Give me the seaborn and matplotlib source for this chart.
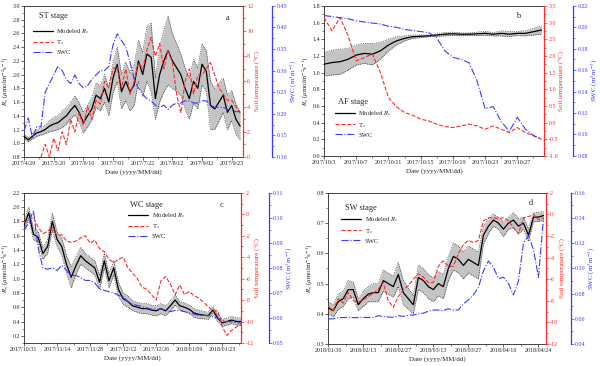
import numpy as np
import pandas as pd
import matplotlib
matplotlib.use('Agg')
import matplotlib.pyplot as plt
import seaborn as sns
from matplotlib.ticker import AutoMinorLocator, FormatStrFormatter
from matplotlib.lines import Line2D

sns.set_style('ticks')
plt.rcParams['font.family'] = ['Liberation Serif', 'DejaVu Serif']
plt.rcParams['mathtext.fontset'] = 'stix'

# ---------------- data ----------------
# ST stage, every 3 days from 2017/4/29
st_start = '2017-04-29'
st_rs = [1.10, 1.05, 1.10, 1.15, 1.17, 1.20, 1.25, 1.28, 1.30, 1.35, 1.40, 1.48, 1.55,
         1.45, 1.30, 1.40, 1.50, 1.70, 1.65, 1.80, 1.60, 1.95, 2.15, 1.75, 1.90, 1.75,
         1.85, 2.20, 2.00, 2.30, 2.25, 1.65, 2.00, 2.20, 2.35, 2.20, 2.10, 2.00, 1.80,
         1.65, 1.90, 1.80, 2.15, 2.05, 1.55, 1.50, 1.60, 1.70, 1.45, 1.55, 1.35, 1.25]
st_err = [0.03, 0.03, 0.04, 0.05, 0.05, 0.06, 0.08, 0.10, 0.10, 0.12, 0.12, 0.12, 0.14,
          0.14, 0.15, 0.16, 0.16, 0.18, 0.18, 0.20, 0.20, 0.22, 0.25, 0.25, 0.28, 0.28,
          0.30, 0.30, 0.32, 0.40, 0.50, 0.30, 0.40, 0.45, 0.50, 0.40, 0.35, 0.30, 0.30,
          0.30, 0.32, 0.30, 0.30, 0.30, 0.35, 0.30, 0.28, 0.25, 0.25, 0.22, 0.22, 0.20]
st_ts = [np.nan, np.nan, np.nan, np.nan, 0.0, 1.0, 0.0, 1.5, 0.5, 2.0, 1.0, 3.0, 2.0,
         3.5, 2.5, 4.0, 3.0, 4.5, 4.2, 6.0, 5.5, 7.0, 7.2, 5.5, 7.0, 5.0,
         6.0, 7.5, 7.0, 8.5, 9.5, 8.0, 9.0, 7.0, 8.5, 7.5, 5.0, 3.5, 6.0,
         7.0, 5.0, 6.5, 6.5, 7.0, 7.5, 6.5, 5.5, 5.0, 4.5, 4.5, 4.0, 3.5]
st_swc = [0.160, 0.190, 0.145, 0.170, 0.170, 0.250, 0.270, 0.290, 0.310, 0.300, 0.280, 0.270, 0.290,
          0.270, 0.260, 0.265, 0.280, 0.290, 0.300, 0.300, 0.310, 0.360, 0.385, 0.370, 0.355, 0.320,
          0.280, 0.260, 0.245, 0.235, 0.230, 0.220, 0.215, 0.220, 0.210, 0.220, 0.225, 0.225, 0.230,
          0.230, 0.225, 0.225, 0.230, 0.230, 0.220, 0.215, 0.215, 0.215, 0.210, 0.210, 0.205, 0.205]
st_ticks = ['2017/4/29', '2017/5/20', '2017/6/10', '2017/7/01', '2017/7/22', '2017/8/12', '2017/9/02', '2017/9/23']

# AF stage, daily from 2017/10/3
af_start = '2017-10-03'
af_rs = [1.10, 1.12, 1.13, 1.16, 1.21, 1.23, 1.22, 1.26, 1.33, 1.38, 1.41, 1.43, 1.435, 1.44,
         1.45, 1.46, 1.465, 1.46, 1.46, 1.465, 1.47, 1.46, 1.47, 1.46, 1.47, 1.47, 1.49, 1.51]
af_err = [0.14, 0.15, 0.15, 0.13, 0.12, 0.12, 0.13, 0.10, 0.07, 0.05, 0.03, 0.02, 0.015, 0.01,
          0.015, 0.02, 0.02, 0.015, 0.015, 0.02, 0.025, 0.02, 0.03, 0.03, 0.025, 0.03, 0.04, 0.05]
af_ts = [3.15, 2.75, 3.15, 2.60, 1.85, 1.95, 2.05, 1.50, 0.75, 0.47, 0.30, 0.22, 0.10, 0.05,
         -0.05, -0.12, -0.15, -0.10, -0.05, -0.10, -0.20, -0.10, -0.20, -0.30, -0.15, -0.30, -0.40, -0.50]
af_swc = [0.211, 0.210, 0.209, 0.208, 0.206, 0.205, 0.204, 0.203, 0.201, 0.200, 0.198, 0.197, 0.196, 0.195,
          0.190, 0.178, 0.172, 0.170, 0.167, 0.150, 0.124, 0.126, 0.112, 0.103, 0.116, 0.105, 0.099, 0.096]
af_ticks = ['2017/10/3', '2017/10/7', '2017/10/11', '2017/10/15', '2017/10/19', '2017/10/23', '2017/10/27']

# WC stage, every 2 days from 2017/10/31
wc_start = '2017-10-31'
wc_rs = [1.75, 1.92, 1.62, 1.58, 1.35, 1.45, 1.80, 1.55, 1.45, 1.20, 1.02, 1.18, 1.32, 1.25,
         1.20, 1.15, 0.95, 1.25, 0.97, 1.15, 0.85, 0.72, 0.68, 0.62, 0.60, 0.58, 0.58, 0.56,
         0.55, 0.58, 0.55, 0.62, 0.70, 0.62, 0.60, 0.57, 0.52, 0.50, 0.49, 0.48, 0.56, 0.45,
         0.38, 0.40, 0.42, 0.40, 0.40]
wc_err = [0.06, 0.08, 0.08, 0.08, 0.08, 0.10, 0.12, 0.10, 0.12, 0.12, 0.15, 0.12, 0.12, 0.10,
          0.10, 0.10, 0.10, 0.10, 0.10, 0.10, 0.10, 0.08, 0.08, 0.07, 0.07, 0.07, 0.07, 0.07,
          0.07, 0.07, 0.07, 0.07, 0.07, 0.06, 0.06, 0.06, 0.06, 0.06, 0.05, 0.05, 0.05, 0.05,
          0.05, 0.05, 0.05, 0.05, 0.05]
wc_ts = [-0.8, -0.5, -0.3, -1.2, -1.8, -1.6, -1.2, -2.0, -1.9, -2.5, -2.6, -2.5, -2.2, -2.0,
         -2.7, -2.4, -3.2, -3.5, -4.2, -4.5, -4.2, -4.0, -5.0, -5.5, -6.0, -6.8, -7.0, -7.5,
         -8.0, -6.2, -5.8, -6.5, -7.5, -6.6, -7.5, -7.2, -7.6, -7.8, -8.2, -8.6, -9.0, -9.0,
         -10.5, -11.3, -10.8, -10.5, -10.3]
wc_swc = [0.0950, 0.0980, 0.1030, 0.0880, 0.0800, 0.0795, 0.0800, 0.0790, 0.0810, 0.0790, 0.0770, 0.0770,
          0.0760, 0.0750, 0.0750, 0.0740, 0.0715, 0.0710, 0.0705, 0.0700, 0.0690, 0.0685, 0.0665, 0.0655,
          0.0650, 0.0645, 0.0640, 0.0635, 0.0635, 0.0635, 0.0630, 0.0625, 0.0630, 0.0630, 0.0625, 0.0620,
          0.0615, 0.0610, 0.0610, 0.0610, 0.0605, 0.0600, 0.0590, 0.0585, 0.0585, 0.0580, 0.0580]
wc_ticks = ['2017/10/31', '2017/11/14', '2017/11/28', '2017/12/12', '2017/12/26', '2018/01/09', '2018/01/23']

# SW stage, every 2 days from 2018/01/30
sw_start = '2018-01-30'
sw_rs = [0.42, 0.41, 0.44, 0.45, 0.48, 0.48, 0.43, 0.45, 0.465, 0.47, 0.47, 0.51, 0.50, 0.49,
         0.53, 0.47, 0.45, 0.43, 0.52, 0.51, 0.49, 0.48, 0.50, 0.49, 0.55, 0.59, 0.58, 0.56,
         0.58, 0.57, 0.56, 0.66, 0.69, 0.71, 0.70, 0.68, 0.70, 0.71, 0.69, 0.70, 0.66, 0.72,
         0.72, 0.725]
sw_err = [0.02, 0.02, 0.025, 0.025, 0.03, 0.025, 0.02, 0.025, 0.025, 0.03, 0.03, 0.035, 0.035, 0.035,
          0.04, 0.04, 0.035, 0.03, 0.04, 0.04, 0.04, 0.04, 0.04, 0.04, 0.04, 0.045, 0.045, 0.045,
          0.045, 0.045, 0.045, 0.03, 0.025, 0.02, 0.02, 0.025, 0.02, 0.025, 0.025, 0.02, 0.02, 0.015,
          0.015, 0.015]
sw_ts = [-8.5, -8.9, -7.8, -8.2, -7.2, -8.0, -8.1, -7.9, -7.6, -7.3, -6.9, -6.3, -8.0, -8.6,
         -7.6, -7.0, -6.6, -6.0, -5.5, -5.8, -6.3, -6.3, -4.8, -4.3, -4.8, -4.8, -3.6, -2.8,
         -2.4, -2.6, -2.4, -0.6, -0.3, -0.3, -0.4, -0.3, -0.6, -1.2, -1.8, -0.3, -0.2, 0.0,
         -0.5, -0.3]
sw_swc = [0.060, 0.060, 0.061, 0.061, 0.0612, 0.061, 0.061, 0.0612, 0.061, 0.0612, 0.0625, 0.0618,
          0.0615, 0.0612, 0.0625, 0.062, 0.063, 0.063, 0.064, 0.0645, 0.066, 0.067, 0.067, 0.0665,
          0.068, 0.067, 0.067, 0.072, 0.075, 0.079, 0.085, 0.098, 0.106, 0.101, 0.092, 0.093,
          0.088, 0.079, 0.090, 0.120, 0.126, 0.115, 0.093, 0.140]
sw_ticks = ['2018/01/30', '2018/02/13', '2018/02/27', '2018/03/13', '2018/03/27', '2018/04/10', '2018/04/24']

RED = '#ff2a2a'
BLUE = '#3a3aff'

fig = plt.figure(figsize=(6, 3.66), dpi=100)


def panel(rect, start, step, rs, err, ts, swc, ticks, cfg):
    ax = fig.add_axes(rect)
    axt = ax.twinx()
    axs = ax.twinx()
    axs.spines['right'].set_position(('outward', cfg['off']))

    df = pd.DataFrame({'date': pd.date_range(start, periods=len(rs), freq=step),
                       'rs': rs, 'err': err, 'ts': ts, 'swc': swc})
    df['up'] = df['rs'] + df['err']
    df['lo'] = df['rs'] - df['err']

    ax.fill_between(df['date'], df['lo'], df['up'], color='#c4c4c4', lw=0, zorder=1)
    sns.lineplot(data=df, x='date', y='up', ax=ax, color='k', lw=0.5, ls=':', zorder=2)
    sns.lineplot(data=df, x='date', y='lo', ax=ax, color='k', lw=0.5, ls=':', zorder=2)
    sns.lineplot(data=df, x='date', y='rs', ax=ax, color='k', lw=0.9, zorder=3)
    sns.lineplot(data=df.dropna(subset=['ts']), x='date', y='ts', ax=axt, color=RED, lw=0.8, ls='--')
    sns.lineplot(data=df, x='date', y='swc', ax=axs, color=BLUE, lw=0.8, ls='-.')

    ax.set_xlim(pd.Timestamp(cfg['xlim'][0]), pd.Timestamp(cfg['xlim'][1]))
    ax.set_xticks(pd.to_datetime(ticks, format='%Y/%m/%d'))
    ax.set_xticklabels(ticks)
    ax.xaxis.set_minor_locator(AutoMinorLocator(2))

    ax.set_ylim(*cfg['rs_lim'])
    ax.set_yticks(np.round(np.arange(cfg['rs_ticks'][0], cfg['rs_ticks'][1] + 1e-9, cfg['rs_ticks'][2]), 3))
    ax.yaxis.set_major_formatter(FormatStrFormatter('%.1f'))
    ax.yaxis.set_minor_locator(AutoMinorLocator(2))

    axt.set_ylim(*cfg['ts_lim'])
    axt.set_yticks(np.arange(cfg['ts_lim'][0], cfg['ts_lim'][1] + 1e-9, cfg['ts_step']))
    axt.yaxis.set_major_formatter(FormatStrFormatter(cfg['ts_fmt']))
    axt.yaxis.set_minor_locator(AutoMinorLocator(2))

    axs.set_ylim(*cfg['swc_lim'])
    axs.set_yticks(np.arange(cfg['swc_lim'][0], cfg['swc_lim'][1] + 1e-9, cfg['swc_step']))
    axs.yaxis.set_major_formatter(FormatStrFormatter('%.2f'))
    axs.yaxis.set_minor_locator(AutoMinorLocator(2))

    for a in (ax, axt, axs):
        a.tick_params(which='major', length=2, width=0.5, labelsize=4.3, pad=1)
        a.tick_params(which='minor', length=1.2, width=0.4)
    for s in ax.spines.values():
        s.set_linewidth(0.6)
    for side in ('left', 'top', 'bottom'):
        axt.spines[side].set_visible(False)
        axs.spines[side].set_visible(False)
    axt.spines['right'].set_color(RED)
    axt.spines['right'].set_linewidth(0.9)
    axs.spines['right'].set_color(BLUE)
    axs.spines['right'].set_linewidth(0.9)
    axt.tick_params(axis='y', colors=RED)
    axs.tick_params(axis='y', colors=BLUE)

    ax.set_xlabel('Date (yyyy/MM/dd)', fontsize=5, labelpad=2)
    ax.set_ylabel(r'$R_s$ ($\mu$molm$^{-2}$s$^{-1}$)', fontsize=5, labelpad=1)
    axt.set_ylabel('Soil temperature (°C)', fontsize=5, color=RED, labelpad=1)
    axs.set_ylabel(r'SWC (m$^3$m$^{-3}$)', fontsize=5, color=BLUE, labelpad=1)

    handles = [Line2D([], [], color='k', lw=0.9),
               Line2D([], [], color=RED, lw=0.8, ls='--'),
               Line2D([], [], color=BLUE, lw=0.8, ls='-.')]
    ax.legend(handles, [r'Modeled $R_s$', r'T$_s$', 'SWC'], loc='upper left',
              bbox_to_anchor=cfg['leg'], frameon=False, fontsize=4.8,
              handlelength=3, labelspacing=0.35, borderpad=0, borderaxespad=0, handletextpad=0.5)
    ax.text(*cfg['title_xy'], cfg['title'], transform=ax.transAxes, fontsize=6, va='center')
    ax.text(*cfg['letter_xy'], cfg['letter'], transform=ax.transAxes, fontsize=6, va='center')


panel([0.040, 0.571, 0.365, 0.413], st_start, '3D', st_rs, st_err, st_ts, st_swc, st_ticks,
      dict(off=21, xlim=('2017-04-29', '2017-10-01'), rs_lim=(0.8, 3.0), rs_ticks=(0.8, 3.0, 0.2),
           ts_lim=(0, 12), ts_step=2, ts_fmt='%d', swc_lim=(0.10, 0.45), swc_step=0.05,
           leg=(0.04, 0.86), title='ST stage', title_xy=(0.07, 0.93), letter='a', letter_xy=(0.92, 0.92)))

panel([0.540, 0.574, 0.367, 0.410], af_start, '1D', af_rs, af_err, af_ts, af_swc, af_ticks,
      dict(off=21, xlim=('2017-10-03', '2017-10-30 08:00'), rs_lim=(0.0, 1.8), rs_ticks=(0.0, 1.8, 0.2),
           ts_lim=(-1.0, 3.5), ts_step=0.5, ts_fmt='%.1f', swc_lim=(0.08, 0.22), swc_step=0.02,
           leg=(0.05, 0.31), title='AF stage', title_xy=(0.065, 0.36), letter='b', letter_xy=(0.87, 0.93)))

panel([0.040, 0.063, 0.362, 0.410], wc_start, '2D', wc_rs, wc_err, wc_ts, wc_swc, wc_ticks,
      dict(off=20, xlim=('2017-10-31', '2018-01-31'), rs_lim=(0.1, 2.2), rs_ticks=(0.2, 2.2, 0.2),
           ts_lim=(-12, 2), ts_step=2, ts_fmt='%d', swc_lim=(0.05, 0.11), swc_step=0.01,
           leg=(0.48, 0.88), title='WC stage', title_xy=(0.49, 0.92), letter='c', letter_xy=(0.90, 0.92)))

panel([0.547, 0.060, 0.363, 0.413], sw_start, '2D', sw_rs, sw_err, sw_ts, sw_swc, sw_ticks,
      dict(off=18, xlim=('2018-01-30', '2018-04-27'), rs_lim=(0.3, 0.8), rs_ticks=(0.3, 0.8, 0.1),
           ts_lim=(-12, 2), ts_step=2, ts_fmt='%d', swc_lim=(0.04, 0.16), swc_step=0.02,
           leg=(0.06, 0.85), title='SW stage', title_xy=(0.077, 0.90), letter='d', letter_xy=(0.92, 0.93)))

plt.savefig('out.png', dpi=100)
